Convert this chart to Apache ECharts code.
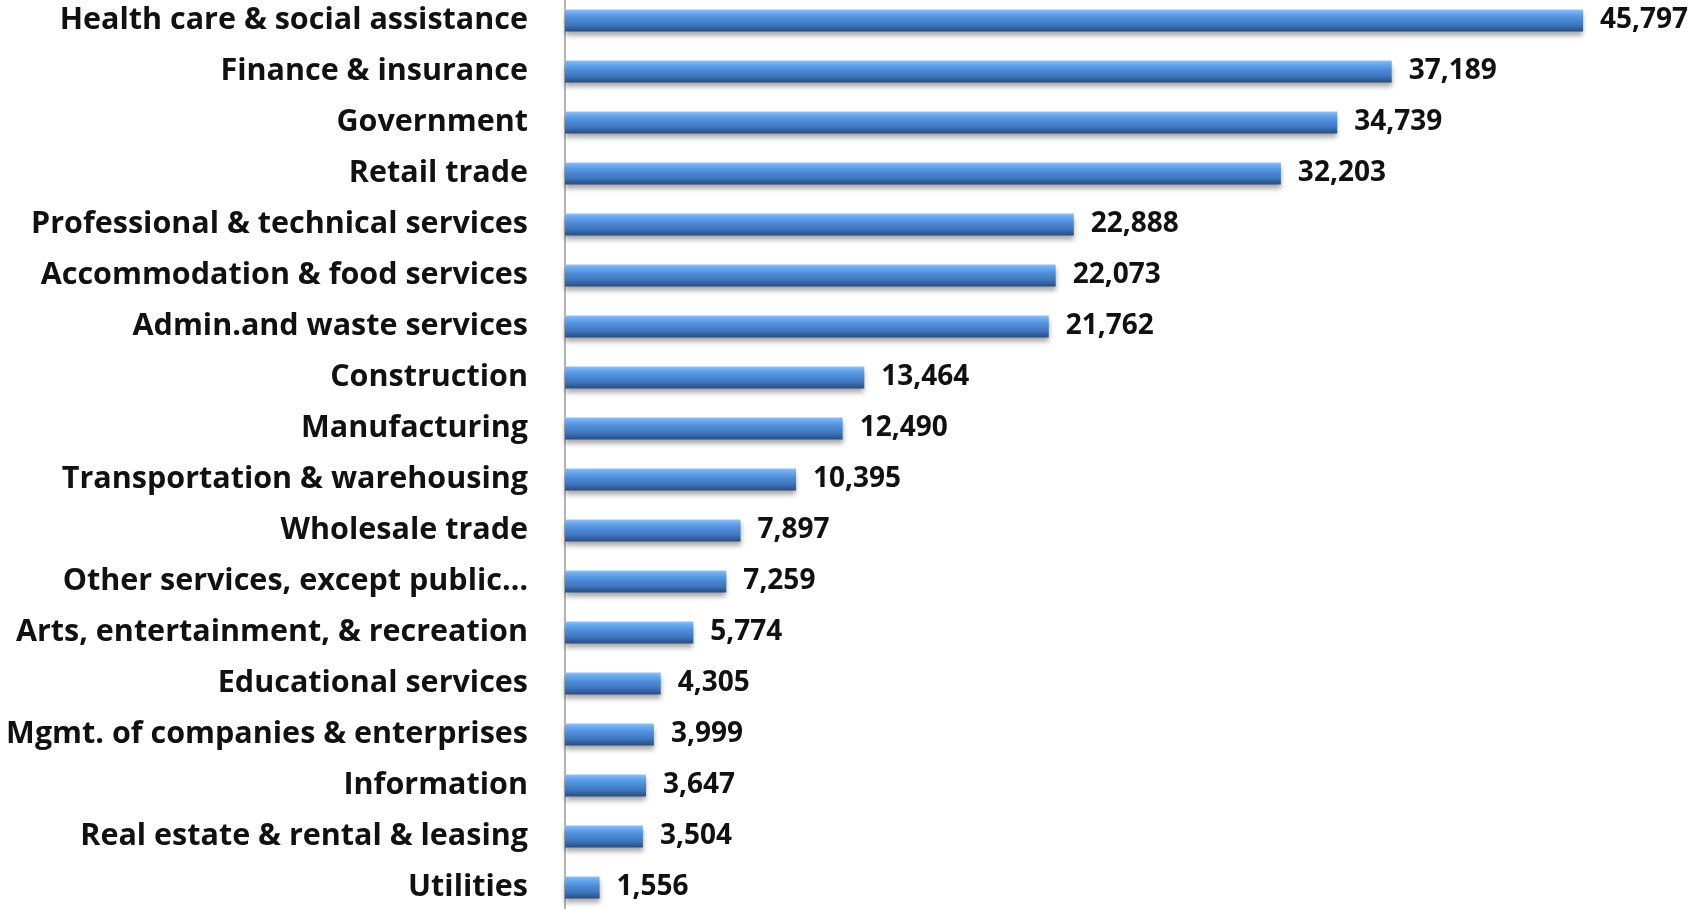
<!DOCTYPE html>
<html><head><meta charset="utf-8">
<script src="https://cdn.jsdelivr.net/npm/echarts@6/dist/echarts.min.js"></script>
<style>html,body{margin:0;padding:0;background:#fff;overflow:hidden}#c{position:absolute;left:0;top:-5px;width:1700px;height:918px}</style>
</head><body><div id="c"></div>
<script>
const categories = ["Health care & social assistance","Finance & insurance","Government","Retail trade","Professional & technical services","Accommodation & food services","Admin.and waste services","Construction","Manufacturing","Transportation & warehousing","Wholesale trade","Other services, except public…","Arts, entertainment, & recreation","Educational services","Mgmt. of companies & enterprises","Information","Real estate & rental & leasing","Utilities"];
const values = [45797,37189,34739,32203,22888,22073,21762,13464,12490,10395,7897,7259,5774,4305,3999,3647,3504,1556];
const chart = echarts.init(document.getElementById('c'));
chart.setOption({
  animation:false,
  grid:{left:565, top:0, bottom:0, width:1111.5, containLabel:false},
  xAxis:{type:'value', min:0, max:50000, show:false},
  yAxis:{type:'category', data:categories, inverse:true,
    axisLine:{show:true, lineStyle:{color:'#9a9a9a', width:1.5}},
    axisTick:{show:false},
    axisLabel:{margin:37, fontFamily:'Open Sans', fontWeight:'bold', fontSize:30.5, color:'#111'}},
  series:[{type:'bar', data:values, barWidth:22,
    itemStyle:{color:new echarts.graphic.LinearGradient(0,0,0,1,[
      {offset:0,color:'#8ec3f7'},{offset:0.15,color:'#6aaaf0'},{offset:0.4,color:'#4f8edb'},
      {offset:0.7,color:'#3f77bf'},{offset:0.9,color:'#2f5b96'},{offset:1,color:'#284c7e'}]),
      shadowColor:'rgba(0,0,0,0.35)', shadowBlur:5, shadowOffsetY:4},
    label:{show:true, position:'right', distance:17, fontFamily:'Open Sans', fontWeight:'bold', fontSize:28, color:'#111',
      formatter:p=>p.value.toLocaleString('en-US')}}]
});
</script></body></html>
